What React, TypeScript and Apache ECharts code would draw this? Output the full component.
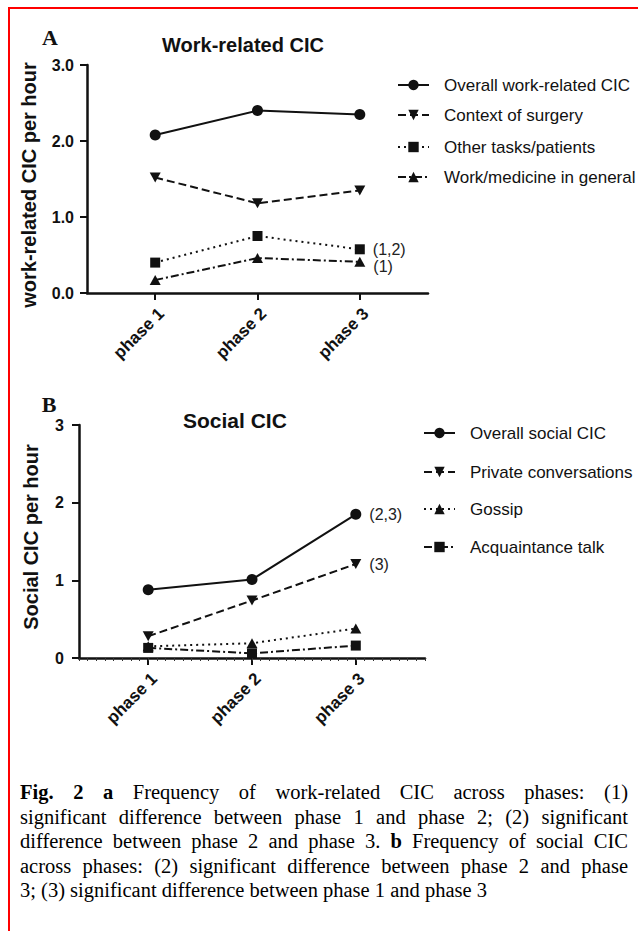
import React, { useEffect, useRef } from "react";
import * as echarts from "echarts";

const phases = ["phase 1", "phase 2", "phase 3"];

const workNames = ["Overall work-related CIC", "Context of surgery", "Other tasks/patients", "Work/medicine in general"];
const workOverall = [2.08, 2.4, 2.35];
const workContext = [1.52, 1.18, 1.35];
const workOther = [0.4, 0.75, 0.575];
const workGeneral = [0.17, 0.46, 0.41];
const workNotes = [[], [], ["", "", "(1,2)"], ["", "", "(1)"]];

const socialNames = ["Overall social CIC", "Private conversations", "Gossip", "Acquaintance talk"];
const socialOverall = [0.88, 1.01, 1.85];
const socialPrivate = [0.28, 0.74, 1.21];
const socialGossip = [0.15, 0.19, 0.38];
const socialAcq = [0.13, 0.06, 0.16];
const socialNotes = [["", "", "(2,3)"], ["", "", "(3)"], [], []];

const workTicks = [0, 1, 2, 3];
const socialTicks = [0, 1, 2, 3];

const SANS = "'Liberation Sans', Arial, sans-serif";
const SERIF = "'Liberation Serif', 'Times New Roman', serif";
const DOWN = "path://M0,0L10,0L5,9Z";
const UP = "path://M5,0L10,9L0,9Z";

const styles = [
  { symbol: "circle", size: 11, type: "solid" as any },
  { symbol: DOWN, size: [11, 10], type: [8, 4] },
  { symbol: "rect", size: 10, type: [2, 4] },
  { symbol: UP, size: [11, 10], type: [8, 3, 2, 3] },
];
const socialStyles = [styles[0], styles[1], { ...styles[3], type: [2, 4] }, { ...styles[2], type: [8, 3, 2, 3] }];

function makeSeries(names: string[], values: number[][], notes: string[][], st: any[], axis: number, noteOffsets: number[]) {
  return names.map((name, k) => ({
    name,
    type: "line",
    xAxisIndex: axis,
    yAxisIndex: axis,
    symbol: st[k].symbol,
    symbolSize: st[k].size,
    lineStyle: { color: "#111", width: 2, type: st[k].type },
    itemStyle: { color: "#111" },
    data: values[k].map((v, i) => {
      const note = notes[k][i];
      const item: any = { value: [i + 1, v] };
      if (note) {
        item.label = {
          show: true,
          position: "right",
          distance: 8,
          formatter: note,
          offset: [0, noteOffsets[k] || 0],
          color: "#222",
          fontFamily: SANS,
          fontSize: 16,
        };
      }
      return item;
    }),
  }));
}

function xAxisFor(grid: number) {
  return {
    type: "value",
    gridIndex: grid,
    position: "bottom",
    min: 1 / 3,
    max: 11 / 3,
    splitLine: { show: false },
    axisLine: { show: true, lineStyle: { color: "#111", width: 2.5 } },
    axisTick: { show: true, customValues: [1, 2, 3], length: 7, lineStyle: { color: "#111", width: 2 } },
    axisLabel: {
      show: true,
      customValues: [1, 2, 3],
      rotate: 45,
      margin: 12,
      verticalAlign: "top",
      formatter: (v: number) => phases[Math.round(v) - 1],
      color: "#111",
      fontFamily: SANS,
      fontWeight: "bold",
      fontSize: 17,
    },
  };
}

function yAxisFor(grid: number, ticks: number[], dec: number, margin: number) {
  return {
    type: "value",
    gridIndex: grid,
    min: ticks[0],
    max: ticks[ticks.length - 1],
    interval: 1,
    splitLine: { show: false },
    axisLine: { show: true, lineStyle: { color: "#111", width: 2.5 } },
    axisTick: { show: true, length: 7, lineStyle: { color: "#111", width: 2 } },
    axisLabel: {
      margin,
      formatter: (v: number) => v.toFixed(dec),
      color: "#111",
      fontFamily: SANS,
      fontWeight: "bold",
      fontSize: 16,
    },
  };
}

function legendItem(name: string, left: number, center: number) {
  return {
    data: [name],
    left,
    top: center - 10,
    padding: 0,
    itemWidth: 31,
    itemHeight: 13,
    selectedMode: false,
    textStyle: {
      color: "#111",
      fontFamily: SANS,
      fontSize: 17,
      lineHeight: 20,
      padding: [0, 0, 0, 10],
    },
  };
}

export default function App() {
  const ref = useRef<HTMLDivElement>(null);
  useEffect(() => {
    if (!ref.current) return;
    const chart = echarts.init(ref.current, null, { renderer: "svg" });
    const workSeries = makeSeries(workNames, [workOverall, workContext, workOther, workGeneral], workNotes, styles, 0, [0, 0, 0, 5]);
    const socialSeries = makeSeries(socialNames, [socialOverall, socialPrivate, socialGossip, socialAcq], socialNotes, socialStyles, 1, [0, 0, 0, 0]);
    const workLegendCenters = [85, 115, 147, 177];
    const socialLegendCenters = [433, 472, 509, 547];
    chart.setOption({
      animation: false,
      grid: [
        { left: 87, top: 65, width: 341, height: 228 },
        { left: 79, top: 425, width: 346, height: 233 },
      ],
      xAxis: [
        xAxisFor(0),
        xAxisFor(1),
        {
          type: "value",
          gridIndex: 1,
          position: "bottom",
          min: 1 / 3,
          max: 11 / 3,
          interval: 1 / 12,
          splitLine: { show: false },
          axisLine: { show: false },
          axisLabel: { show: false },
          axisTick: { show: true, length: 3, lineStyle: { color: "#333", width: 1 } },
        },
      ],
      yAxis: [yAxisFor(0, workTicks, 1, 13), yAxisFor(1, socialTicks, 0, 15)],
      legend: [
        ...workNames.map((n, i) => legendItem(n, 397, workLegendCenters[i])),
        ...socialNames.map((n, i) => legendItem(n, 423, socialLegendCenters[i])),
      ],
      graphic: [
        { type: "text", x: 50, y: 37, style: { text: "A", font: `bold 22px ${SERIF}`, fill: "#111", textAlign: "center", textVerticalAlign: "middle" } },
        { type: "text", x: 49, y: 404, style: { text: "B", font: `bold 22px ${SERIF}`, fill: "#111", textAlign: "center", textVerticalAlign: "middle" } },
        { type: "text", x: 162, y: 45, style: { text: "Work-related CIC", font: `bold 20px ${SANS}`, fill: "#111", textAlign: "left", textVerticalAlign: "middle" } },
        { type: "text", x: 183, y: 420, style: { text: "Social CIC", font: `bold 21px ${SANS}`, fill: "#111", textAlign: "left", textVerticalAlign: "middle" } },
        { type: "text", x: 29, y: 185, rotation: Math.PI / 2, style: { text: "work-related CIC per hour", font: `bold 20px ${SANS}`, fill: "#111", textAlign: "center", textVerticalAlign: "middle" } },
        { type: "text", x: 31, y: 537, rotation: Math.PI / 2, style: { text: "Social CIC per hour", font: `bold 20px ${SANS}`, fill: "#111", textAlign: "center", textVerticalAlign: "middle" } },
      ],
      series: [...workSeries, ...socialSeries],
    });
    return () => chart.dispose();
  }, []);

  const lineStyle: React.CSSProperties = { textAlign: "justify", textAlignLast: "justify", height: 24.5 } as any;
  return (
    <div style={{ position: "absolute", left: 0, top: 0, width: 638, height: 931, background: "#fff", overflow: "hidden" }}>
      <div style={{ position: "absolute", left: 8, top: 7, width: 640, height: 940, borderTop: "2.5px solid #ff0000", borderLeft: "2.5px solid #ff0000" }} />
      <div ref={ref} style={{ position: "absolute", left: 0, top: 0, width: 638, height: 770 }} />
      <div style={{ position: "absolute", left: 20, top: 780, width: 608, fontFamily: SERIF, fontSize: 20.5, lineHeight: "24.5px", color: "#000" }}>
        <div style={lineStyle}><b>Fig. 2</b> <b>a</b> Frequency of work-related CIC across phases: (1)</div>
        <div style={lineStyle}>significant difference between phase 1 and phase 2; (2) significant</div>
        <div style={lineStyle}>difference between phase 2 and phase 3. <b>b</b> Frequency of social CIC</div>
        <div style={lineStyle}>across phases: (2) significant difference between phase 2 and phase</div>
        <div style={{ whiteSpace: "nowrap", height: 24.5 }}>3; (3) significant difference between phase 1 and phase 3</div>
      </div>
    </div>
  );
}
